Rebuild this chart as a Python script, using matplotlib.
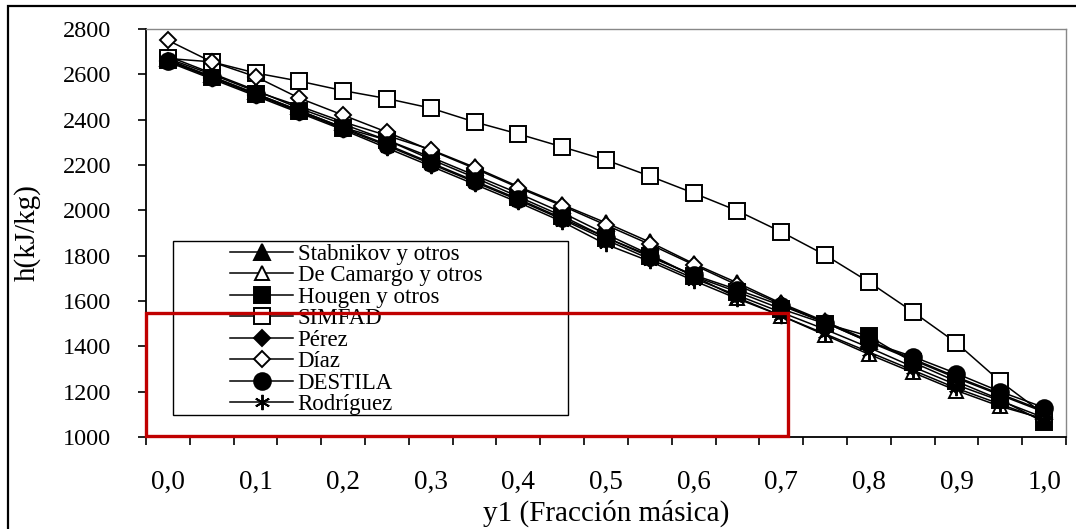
import numpy as np
import matplotlib
matplotlib.use("Agg")
import matplotlib.pyplot as plt
from matplotlib.patches import Rectangle

plt.rcParams['font.family'] = ['Liberation Serif', 'DejaVu Serif']

# fracción másica y1 (categorías del eje x)
y1 = [0.00, 0.05, 0.10, 0.15, 0.20, 0.25, 0.30, 0.35, 0.40, 0.45, 0.50,
      0.55, 0.60, 0.65, 0.70, 0.75, 0.80, 0.85, 0.90, 0.95, 1.00]
tick_labels = ["0,0", "0,1", "0,2", "0,3", "0,4", "0,5",
               "0,6", "0,7", "0,8", "0,9", "1,0"]

# entalpía h (kJ/kg)
stabnikov = [2670, 2600, 2525, 2460, 2390, 2330, 2268, 2190, 2105, 2025, 1945,
             1860, 1765, 1680, 1590, 1510, 1425, 1345, 1265, 1190, 1115]
de_camargo = [2680, 2605, 2530, 2450, 2380, 2310, 2235, 2155, 2075, 1990, 1895,
              1805, 1710, 1615, 1535, 1450, 1365, 1285, 1205, 1135, 1080]
hougen = [2665, 2590, 2515, 2440, 2365, 2310, 2225, 2145, 2060, 1975, 1880,
          1800, 1710, 1640, 1565, 1500, 1445, 1330, 1245, 1165, 1065]
simfad = [2670, 2655, 2606, 2570, 2528, 2493, 2451, 2390, 2337, 2280, 2222,
          2151, 2076, 1998, 1905, 1803, 1684, 1553, 1415, 1245, 1100]
perez = [2660, 2585, 2510, 2435, 2360, 2285, 2205, 2125, 2045, 1960, 1870,
         1785, 1700, 1625, 1550, 1475, 1395, 1310, 1230, 1160, 1085]
diaz = [2750, 2655, 2590, 2495, 2420, 2345, 2265, 2185, 2100, 2020, 1935,
        1850, 1760, 1670, 1585, 1505, 1420, 1340, 1260, 1185, 1110]
destila = [2660, 2590, 2515, 2440, 2365, 2290, 2210, 2130, 2050, 1965, 1880,
           1795, 1715, 1650, 1580, 1505, 1420, 1355, 1280, 1200, 1130]
rodriguez = [2655, 2580, 2505, 2430, 2355, 2275, 2195, 2115, 2035, 1950, 1850,
             1775, 1690, 1610, 1535, 1455, 1375, 1295, 1215, 1145, 1075]

series = [
    ("Stabnikov y otros", stabnikov, "^", "black", 11),
    ("De Camargo y otros", de_camargo, "^", "white", 10),
    ("Hougen y otros", hougen, "s", "black", 11),
    ("SIMFAD", simfad, "s", "white", 12),
    ("Pérez", perez, "D", "black", 8),
    ("Díaz", diaz, "D", "white", 8),
    ("DESTILA", destila, "o", "black", 12),
    ("Rodríguez", rodriguez, (6, 2, 0), "black", 11),
]

fig = plt.figure(figsize=(10.76, 5.29), dpi=100)
ax = fig.add_axes([146/1076, 1-437/529, 920/1076, 408/529])

xi = np.arange(len(y1))
for name, vals, mk, fc, ms in series:
    ax.plot(xi, vals, color="black", lw=1.1, marker=mk, ms=ms,
            markerfacecolor=fc, markeredgecolor="black", markeredgewidth=1.4,
            label=name)

ax.set_xlim(-0.5, len(y1) - 0.5)
ax.set_ylim(1000, 2800)
ax.set_yticks(np.arange(1000, 2801, 200))
ax.set_xticks(np.arange(-0.5, len(y1), 1.0))
ax.set_xticklabels([])
ax.set_xticks(xi[::2], minor=True)
ax.set_xticklabels(tick_labels, minor=True)
ax.tick_params(axis="x", which="major", direction="out", length=6, width=1.2)
ax.tick_params(axis="x", which="minor", length=0, pad=24, labelsize=19.5)
ax.tick_params(axis="y", direction="out", length=6, width=1.2, pad=19, labelsize=17.5)

for s in ("top", "right"):
    ax.spines[s].set_color("#888888")
    ax.spines[s].set_linewidth(1.0)
for s in ("left", "bottom"):
    ax.spines[s].set_linewidth(1.3)

ax.set_xlabel("y1 (Fracción másica)", fontsize=21, labelpad=3)
ax.set_ylabel("h(kJ/kg)", fontsize=21, labelpad=16)

leg = ax.legend(loc="upper left", bbox_to_anchor=(0.0915, 0.474), borderaxespad=0,
                fontsize=16.5, labelspacing=0.02, handlelength=2.75, handletextpad=0.2,
                borderpad=0, frameon=False)
# marco de la leyenda (estilo Excel, con margen a la izquierda)
ax.add_patch(Rectangle((0.0293, 0.0539), 0.429, 0.4265, transform=ax.transAxes,
                       fill=False, edgecolor="black", lw=1.0, zorder=4))

# recuadro rojo de resaltado
ax.add_patch(Rectangle((-0.5, 1003), 14.66, 543, fill=False, edgecolor="#c00000",
                       lw=2.4, zorder=10, clip_on=False))

# marco exterior de la figura
fig.patches.append(Rectangle((8/1076, -0.1), 1.5, 1.1 - 6/529, fill=False,
                             edgecolor="black", lw=1.6, transform=fig.transFigure))

fig.savefig("out.png", dpi=100)
